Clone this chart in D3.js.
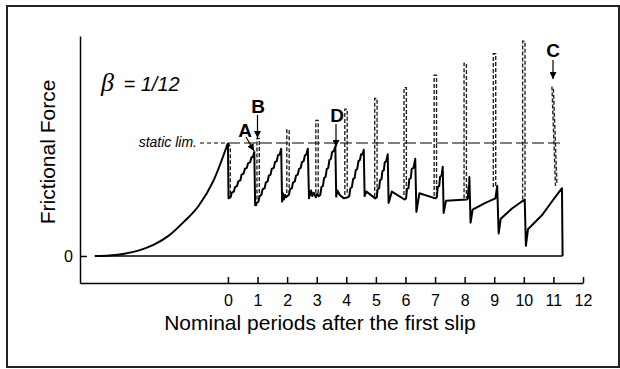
<!DOCTYPE html>
<html><head><meta charset="utf-8">
<script src="https://cdn.jsdelivr.net/npm/d3@7/dist/d3.min.js"></script>
<style>body{margin:0;background:#fff}svg{display:block}</style>
</head><body>
<script>
// ---- data ----
const periodTicks = [0,1,2,3,4,5,6,7,8,9,10,11,12];
const zeroTick = [0];
const staticLimit = 1.0;
// initial loading curve
const loadX = [-4.5,-4.0,-3.5,-3.0,-2.5,-2.0,-1.5,-1.0,-0.5,0.0];
const loadF = [0,0.005,0.02,0.05,0.10,0.18,0.30,0.44,0.66,1.0];
// stick-slip force trace (solid)
const traceX = [0.00,0.02,0.09,0.13,0.20,0.24,0.31,0.35,0.42,0.46,0.53,0.57,0.64,0.68,0.75,0.79,0.85,0.89,
 0.92,0.95,0.97,1.03,1.07,1.13,1.17,1.24,1.28,1.34,1.38,1.44,1.48,1.55,1.59,1.65,1.69,1.75,1.80,
 1.83,1.86,1.89,1.93,1.97,2.00,2.06,2.10,2.16,2.20,2.26,2.30,2.36,2.40,2.46,2.50,2.56,2.60,2.65,2.70,
 2.74,2.81,2.85,2.90,2.97,3.02,3.07,3.12,3.16,3.21,3.25,3.30,3.34,3.39,3.43,3.48,3.52,3.58,3.63,
 3.66,3.70,3.78,3.92,4.05,4.10,4.14,4.19,4.23,4.28,4.32,4.37,4.41,4.46,4.50,4.55,4.59,
 4.62,4.68,4.98,5.03,5.06,5.11,5.14,5.19,5.22,5.27,5.30,5.35,5.40,
 5.43,5.54,5.97,6.02,6.05,6.10,6.13,6.18,6.21,6.27,6.33,
 6.37,6.47,7.01,7.06,7.09,7.14,7.17,7.22,7.26,
 7.29,7.37,8.08,8.11,8.13,8.15,8.16,
 8.20,8.27,8.70,9.04,9.10,
 9.15,9.22,9.60,10.03,
 10.07,10.14,10.61,11.00,11.29,11.31];
const traceF = [1.00,0.51,0.52,0.56,0.57,0.61,0.62,0.66,0.67,0.72,0.73,0.77,0.78,0.82,0.83,0.87,0.88,0.92,
 0.45,0.45,0.47,0.48,0.53,0.54,0.59,0.60,0.65,0.66,0.71,0.72,0.77,0.78,0.83,0.84,0.89,0.90,0.95,
 0.48,0.555,0.50,0.54,0.52,0.53,0.54,0.59,0.60,0.65,0.66,0.71,0.72,0.77,0.78,0.83,0.84,0.89,0.90,0.95,
 0.51,0.58,0.53,0.56,0.52,0.55,0.53,0.54,0.61,0.62,0.69,0.70,0.77,0.78,0.85,0.86,0.92,0.93,0.97,
 0.525,0.58,0.54,0.51,0.52,0.53,0.60,0.61,0.68,0.69,0.76,0.77,0.84,0.85,0.90,0.90,0.94,
 0.53,0.57,0.51,0.52,0.59,0.60,0.67,0.68,0.75,0.76,0.83,0.84,0.90,
 0.47,0.57,0.50,0.51,0.59,0.60,0.68,0.69,0.77,0.78,0.86,
 0.39,0.555,0.51,0.52,0.61,0.62,0.70,0.71,0.79,
 0.38,0.49,0.50,0.51,0.61,0.62,0.70,
 0.295,0.41,0.47,0.51,0.62,
 0.20,0.33,0.42,0.50,
 0.09,0.236,0.36,0.50,0.60,0.00];
// dashed overshoot spikes
const spikeX    = [1.02,2.03,3.01,3.99,5.00,5.99,7.01,8.02,9.01,10.00];
const spikeTop  = [1.04,1.115,1.20,1.30,1.395,1.49,1.60,1.705,1.79,1.90];
const spikeBase = [0.50,0.555,0.555,0.54,0.525,0.54,0.53,0.51,0.61,0.50];
const firstSlipX = [0.00,0.08,0.08], firstSlipF = [1.00,0.97,0.51];
const slipCX = [10.95,11.07], slipCF = [1.50,0.62];
const markLabels = ["A","B","C","D"];

// ---- drawing ----
const W = 620, H = 369;
const FONT = "'Liberation Sans', Arial, Helvetica, sans-serif";
const svg = d3.select("body").append("svg").attr("width", W).attr("height", H);

svg.append("rect").attr("x",7).attr("y",6).attr("width",612).attr("height",361)
  .attr("fill","none").attr("stroke","#222").attr("stroke-width",2);

const x = d3.scaleLinear().domain([-5,12]).range([80,583]);
const y = d3.scaleLinear().domain([-0.239,1.947]).range([283,36]);

// axes
const gx = svg.append("g").attr("transform",`translate(0,${y(-0.239)})`)
  .call(d3.axisBottom(x).tickValues(periodTicks).tickFormat(d3.format("d")).tickSizeInner(-6).tickSizeOuter(0).tickPadding(12));
gx.attr("font-family",FONT).attr("font-size",16);
gx.selectAll("path,line").attr("stroke","#000").attr("stroke-width",1.5);
gx.selectAll("text").attr("fill","#000");

const gy = svg.append("g").attr("transform",`translate(${x(-5)},0)`)
  .call(d3.axisLeft(y).tickValues(zeroTick).tickFormat(d3.format("d")).tickSizeInner(-7).tickSizeOuter(0).tickPadding(7));
gy.attr("font-family",FONT).attr("font-size",16);
gy.selectAll("path,line").attr("stroke","#000").attr("stroke-width",1.5);
gy.selectAll("text").attr("fill","#000");

// static limit line
svg.append("line").attr("x1",200).attr("x2",x(0)).attr("y1",y(staticLimit)).attr("y2",y(staticLimit))
  .attr("stroke","#000").attr("stroke-width",1).attr("stroke-dasharray","4,3");
svg.append("line").attr("x1",x(0)).attr("x2",x(11.35)).attr("y1",y(staticLimit)).attr("y2",y(staticLimit))
  .attr("stroke","#000").attr("stroke-width",1).attr("stroke-dasharray","12,4");
svg.append("text").attr("x",197).attr("y",y(staticLimit)+4).attr("text-anchor","end")
  .attr("font-family",FONT).attr("font-style","italic").attr("font-size",14).text("static lim.");

// dashed spikes
const dashStyle = s => s.attr("fill","none").attr("stroke","#222").attr("stroke-width",1.4).attr("stroke-dasharray","4,2");
const lineGen = d3.line().x(d=>x(d[0])).y(d=>y(d[1]));
spikeX.forEach((sx,i)=>{
  svg.append("path").call(dashStyle).attr("d", lineGen([[sx-0.04,spikeBase[i]],[sx-0.04,spikeTop[i]],[sx+0.04,spikeTop[i]],[sx+0.04,spikeBase[i]]]));
});
svg.append("path").call(dashStyle).attr("d", lineGen(firstSlipX.map((v,i)=>[v,firstSlipF[i]])));
svg.append("path").call(dashStyle).attr("d", lineGen([[slipCX[0],slipCF[0]],[slipCX[1],slipCF[1]]]));
svg.append("path").call(dashStyle).attr("d", lineGen([[slipCX[0]+0.05,slipCF[0]-0.02],[slipCX[1]+0.05,slipCF[1]+0.01]]));

// zero line
svg.append("line").attr("x1",x(loadX[0])).attr("x2",x(traceX[traceX.length-1]))
  .attr("y1",y(0)).attr("y2",y(0)).attr("stroke","#000").attr("stroke-width",1.5);

// loading curve
svg.append("path").attr("fill","none").attr("stroke","#000").attr("stroke-width",2)
  .attr("d", d3.line().x(d=>x(d[0])).y(d=>y(d[1])).curve(d3.curveMonotoneX)(loadX.map((v,i)=>[v,loadF[i]])));
// trace
svg.append("path").attr("fill","none").attr("stroke","#000").attr("stroke-width",2).attr("stroke-linejoin","round")
  .attr("d", lineGen(traceX.map((v,i)=>[v,traceF[i]])));

// beta label
const bt = svg.append("text").attr("x",101).attr("y",91).attr("font-family",FONT).attr("font-style","italic").attr("font-size",20);
bt.append("tspan").attr("font-family","'Liberation Serif', 'DejaVu Serif', serif").attr("font-size",26).text("β");
bt.append("tspan").attr("dx",4).text(" = 1/12");

// annotations
const defs = svg.append("defs");
defs.append("marker").attr("id","ah").attr("viewBox","0 0 10 10").attr("refX",10).attr("refY",5)
  .attr("markerWidth",7).attr("markerHeight",7).attr("markerUnits","userSpaceOnUse").attr("orient","auto")
  .append("path").attr("d","M0,0L10,5L0,10Z").attr("fill","#000");
const ann = [
  {t:markLabels[0], tx:245, ty:137, x1:246, y1:137, x2:254, y2:151},
  {t:markLabels[1], tx:258, ty:113, x1:257.5, y1:115, x2:257.5, y2:138},
  {t:markLabels[2], tx:553, ty:57,  x1:553, y1:60, x2:553, y2:79},
  {t:markLabels[3], tx:337, ty:122, x1:336, y1:124, x2:336, y2:147}
];
ann.forEach(a=>{
  svg.append("text").attr("x",a.tx).attr("y",a.ty).attr("text-anchor","middle").attr("font-family",FONT)
    .attr("font-weight","bold").attr("font-size",19).text(a.t);
  svg.append("line").attr("x1",a.x1).attr("y1",a.y1).attr("x2",a.x2).attr("y2",a.y2)
    .attr("stroke","#000").attr("stroke-width",1.2).attr("marker-end","url(#ah)");
});

// titles
svg.append("text").attr("transform","translate(55,152) rotate(-90)").attr("text-anchor","middle")
  .attr("font-family",FONT).attr("font-size",21).text("Frictional Force");
svg.append("text").attr("x",320).attr("y",330).attr("text-anchor","middle")
  .attr("font-family",FONT).attr("font-size",21).text("Nominal periods after the first slip");
</script>
</body></html>
